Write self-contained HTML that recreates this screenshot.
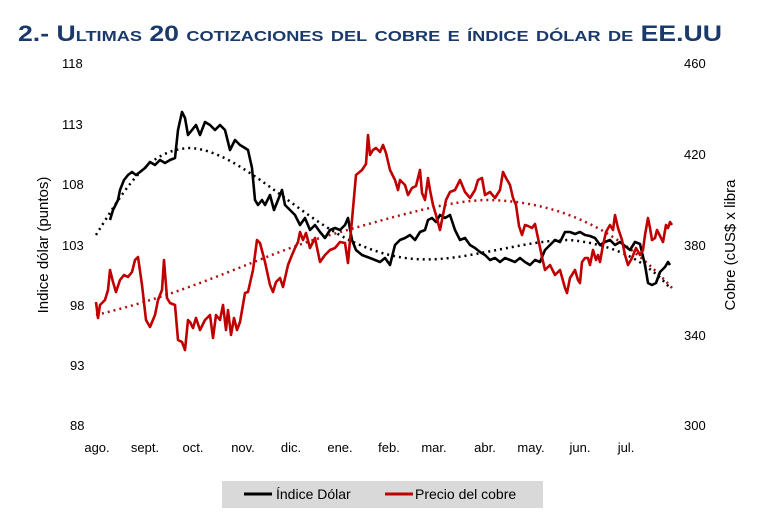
<!DOCTYPE html>
<html><head><meta charset="utf-8"><style>
body{margin:0;background:#fff;width:777px;height:522px;overflow:hidden;font-family:"Liberation Sans",sans-serif}
svg text{font-family:"Liberation Sans",sans-serif}
</style></head><body>
<svg width="777" height="522" viewBox="0 0 777 522">
<text x="18" y="41" font-size="22" font-weight="bold" fill="#1a3a6b" style="font-variant:small-caps" textLength="704" lengthAdjust="spacingAndGlyphs">2.- Ultimas 20 cotizaciones del cobre e índice dólar de EE.UU</text>
<g font-size="13" fill="#000">
<text x="62" y="68">118</text><text x="62" y="129">113</text><text x="62" y="189">108</text><text x="62" y="250">103</text><text x="70" y="310">98</text><text x="70" y="370">93</text><text x="70" y="430">88</text>
<text x="684" y="68">460</text><text x="684" y="159">420</text><text x="684" y="250">380</text><text x="684" y="340">340</text><text x="684" y="430">300</text>
</g>
<g font-size="13" text-anchor="middle">
<text x="97" y="452">ago.</text><text x="145" y="452">sept.</text><text x="193" y="452">oct.</text><text x="243" y="452">nov.</text><text x="291" y="452">dic.</text><text x="340" y="452">ene.</text><text x="389" y="452">feb.</text><text x="434" y="452">mar.</text><text x="485" y="452">abr.</text><text x="531" y="452">may.</text><text x="580" y="452">jun.</text><text x="626" y="452">jul.</text>
</g>
<text transform="translate(48,245) rotate(-90)" font-size="15" text-anchor="middle">Indice dólar (puntos)</text>
<text transform="translate(735,245) rotate(-90)" font-size="15" text-anchor="middle">Cobre (cUS$ x libra</text>
<path d="M96,235 C130,180 150,150 190,148 C240,150 300,220 360,245 C400,262 430,262 470,255 C510,248 540,240 570,240 C620,245 650,265 670,288" fill="none" stroke="#000" stroke-width="2.5" stroke-dasharray="2,4"/>
<path d="M96,315 C200,290 260,255 330,235 C400,215 450,200 490,200 C560,202 620,230 672,288" fill="none" stroke="#b01010" stroke-width="2.5" stroke-dasharray="2,4"/>
<polyline fill="none" stroke="#000" stroke-width="2.6" stroke-linejoin="round" points="110,220 113,210 118,200 120,190 124,180 128,175 132,172 136,175 140,172 145,168 150,162 155,165 160,160 165,163 170,160 175,158 178,130 182,112 185,118 188,135 192,130 196,125 200,135 205,122 210,125 215,130 220,125 225,130 230,150 235,140 240,145 245,148 248,150 252,168 255,200 258,205 262,200 265,205 270,195 274,210 278,200 282,190 285,205 290,210 295,215 300,225 305,218 310,230 315,225 320,232 325,238 330,230 335,228 340,230 345,225 348,218 352,240 356,250 362,255 370,258 380,262 385,258 390,265 395,245 400,240 405,238 410,235 415,240 420,232 425,230 428,220 432,218 436,222 440,215 445,218 450,215 455,230 460,240 465,238 470,245 475,248 480,252 485,255 490,260 495,258 500,262 505,258 510,260 515,262 520,258 525,262 530,265 535,260 540,262 545,250 550,245 555,240 560,242 565,232 570,232 575,234 580,232 585,235 590,236 595,238 600,245 605,242 610,240 615,245 620,242 625,246 630,250 635,242 640,244 645,265 648,283 652,285 656,283 660,272 665,267 668,262 670,265"/>
<polyline fill="none" stroke="#c00000" stroke-width="2.6" stroke-linejoin="round" points="96,302 98,318 100,305 105,300 108,290 110,270 113,282 116,292 120,280 124,275 128,277 132,272 135,260 138,257 142,285 146,320 150,327 155,315 158,300 162,290 164,260 167,298 170,303 175,305 178,340 182,342 185,350 188,320 190,322 193,328 196,318 200,330 205,320 210,315 213,338 216,315 220,320 223,305 226,330 228,310 231,335 234,318 237,330 240,322 245,293 248,292 253,270 257,240 260,243 265,262 270,285 273,292 276,282 280,278 283,287 288,265 292,255 295,248 298,242 300,232 303,240 306,233 310,248 315,238 320,262 325,255 330,250 335,248 340,242 345,243 348,263 350,240 352,220 356,175 362,170 366,164 368,135 370,155 373,150 376,148 380,152 383,145 386,153 390,170 395,180 398,190 400,180 405,185 408,195 412,188 416,186 420,170 422,193 425,200 428,178 430,190 433,205 436,215 440,230 443,215 446,200 450,192 455,190 460,180 465,192 470,198 475,190 478,180 482,178 485,195 490,192 495,198 500,190 503,172 506,178 510,185 513,198 516,205 519,226 522,235 525,225 528,226 532,228 535,224 538,238 542,257 545,270 550,265 555,275 560,270 565,288 567,293 570,278 575,270 578,280 580,283 582,262 585,258 588,258 590,265 593,250 596,260 598,255 600,262 603,245 606,232 610,225 613,230 615,215 618,228 622,240 625,255 628,265 632,258 636,248 640,255 643,250 645,235 648,218 650,228 652,240 655,238 657,230 660,236 663,242 666,225 668,228 670,222 672,225"/>
<rect x="222" y="481" width="321" height="27" fill="#d9d9d9"/>
<line x1="244" y1="494" x2="272" y2="494" stroke="#000" stroke-width="3"/>
<text x="276" y="499" font-size="14">Índice Dólar</text>
<line x1="385" y1="494" x2="413" y2="494" stroke="#c00000" stroke-width="3"/>
<text x="415" y="499" font-size="14">Precio del cobre</text>
</svg>
</body></html>
